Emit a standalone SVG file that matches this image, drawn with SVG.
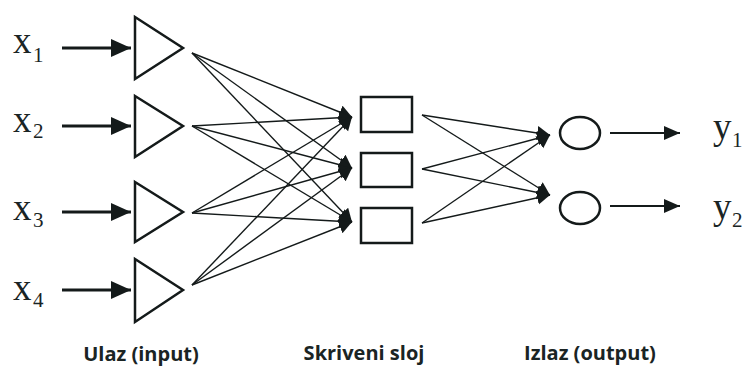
<svg xmlns="http://www.w3.org/2000/svg" width="749" height="367" viewBox="0 0 749 367">
<style>
.node{fill:none;stroke:#141a1a;stroke-width:2.5}
.c{stroke:#141a1a;stroke-width:1.4;fill:none}
.in{stroke:#141a1a;stroke-width:3.2;fill:none}
.out{stroke:#141a1a;stroke-width:2.2;fill:none}
.lab{font-family:"Liberation Serif","Times New Roman",serif;font-size:37px;fill:#1a2424}
.sub{font-family:"Liberation Serif","Times New Roman",serif;font-size:21px;fill:#1a2424}
.cap{font-family:"Open Sans","Liberation Sans",sans-serif;font-size:20px;font-weight:bold;fill:#1a2424;text-anchor:middle}
</style>
<defs>
<marker id="ah" markerUnits="userSpaceOnUse" markerWidth="16" markerHeight="16" refX="13" refY="7" orient="auto"><path d="M0,0 L13,7 L0,14 Z" fill="#141a1a"/></marker>
<marker id="ahIn" markerUnits="userSpaceOnUse" markerWidth="22" markerHeight="20" refX="20" refY="9" orient="auto"><path d="M0,0 L20,9 L0,18 Z" fill="#141a1a"/></marker>
<marker id="ahOut" markerUnits="userSpaceOnUse" markerWidth="18" markerHeight="16" refX="16" refY="7" orient="auto"><path d="M0,0 L16,7 L0,14 Z" fill="#141a1a"/></marker>
</defs>
<rect width="749" height="367" fill="#fff"/>
<g id="connectors">
<line class="in" x1="62" y1="48" x2="131" y2="48" marker-end="url(#ahIn)"/>
<line class="in" x1="62" y1="126" x2="131" y2="126" marker-end="url(#ahIn)"/>
<line class="in" x1="62" y1="212" x2="131" y2="212" marker-end="url(#ahIn)"/>
<line class="in" x1="62" y1="290" x2="131" y2="290" marker-end="url(#ahIn)"/>
<line class="c" x1="192" y1="53" x2="352" y2="117" marker-end="url(#ah)"/>
<line class="c" x1="192" y1="53" x2="352" y2="168" marker-end="url(#ah)"/>
<line class="c" x1="192" y1="53" x2="352" y2="222" marker-end="url(#ah)"/>
<line class="c" x1="192" y1="126" x2="352" y2="117" marker-end="url(#ah)"/>
<line class="c" x1="192" y1="126" x2="352" y2="168" marker-end="url(#ah)"/>
<line class="c" x1="192" y1="126" x2="352" y2="222" marker-end="url(#ah)"/>
<line class="c" x1="192" y1="213" x2="352" y2="117" marker-end="url(#ah)"/>
<line class="c" x1="192" y1="213" x2="352" y2="168" marker-end="url(#ah)"/>
<line class="c" x1="192" y1="213" x2="352" y2="222" marker-end="url(#ah)"/>
<line class="c" x1="192" y1="285" x2="352" y2="117" marker-end="url(#ah)"/>
<line class="c" x1="192" y1="285" x2="352" y2="168" marker-end="url(#ah)"/>
<line class="c" x1="192" y1="285" x2="352" y2="222" marker-end="url(#ah)"/>
<line class="c" x1="422" y1="115" x2="550" y2="135" marker-end="url(#ah)"/>
<line class="c" x1="422" y1="115" x2="550" y2="195" marker-end="url(#ah)"/>
<line class="c" x1="422" y1="169" x2="550" y2="135" marker-end="url(#ah)"/>
<line class="c" x1="422" y1="169" x2="550" y2="195" marker-end="url(#ah)"/>
<line class="c" x1="422" y1="223" x2="550" y2="135" marker-end="url(#ah)"/>
<line class="c" x1="422" y1="223" x2="550" y2="195" marker-end="url(#ah)"/>
<line class="out" x1="610" y1="133" x2="680" y2="133" marker-end="url(#ahOut)"/>
<line class="out" x1="610" y1="206" x2="680" y2="206" marker-end="url(#ahOut)"/>
</g>
<g id="in1"><polygon class="node" points="135,17 183,48 135,79"/></g>
<g id="in2"><polygon class="node" points="135,96 183,126 135,157"/></g>
<g id="in3"><polygon class="node" points="135,182 183,212 135,242"/></g>
<g id="in4"><polygon class="node" points="135,259 183,290 135,322"/></g>
<g id="h1"><rect class="node" x="361" y="97" width="51" height="35"/></g>
<g id="h2"><rect class="node" x="361" y="153" width="51" height="34"/></g>
<g id="h3"><rect class="node" x="361" y="208" width="51" height="35"/></g>
<g id="o1"><ellipse class="node" cx="580" cy="133" rx="20" ry="16"/></g>
<g id="o2"><ellipse class="node" cx="580" cy="208" rx="20" ry="16"/></g>
<g id="labels">
<text class="lab" x="13" y="53">x</text><text class="sub" x="33" y="62">1</text>
<text class="lab" x="13" y="132">x</text><text class="sub" x="33" y="138">2</text>
<text class="lab" x="13" y="220">x</text><text class="sub" x="33" y="227">3</text>
<text class="lab" x="13" y="300">x</text><text class="sub" x="33" y="307">4</text>
<text class="lab" x="713" y="139">y</text><text class="sub" x="732" y="147">1</text>
<text class="lab" x="713" y="219">y</text><text class="sub" x="732" y="227">2</text>
<text class="cap" x="141" y="361">Ulaz (input)</text>
<text class="cap" x="364" y="360">Skriveni sloj</text>
<text class="cap" x="590" y="360">Izlaz (output)</text>
</g>
</svg>
